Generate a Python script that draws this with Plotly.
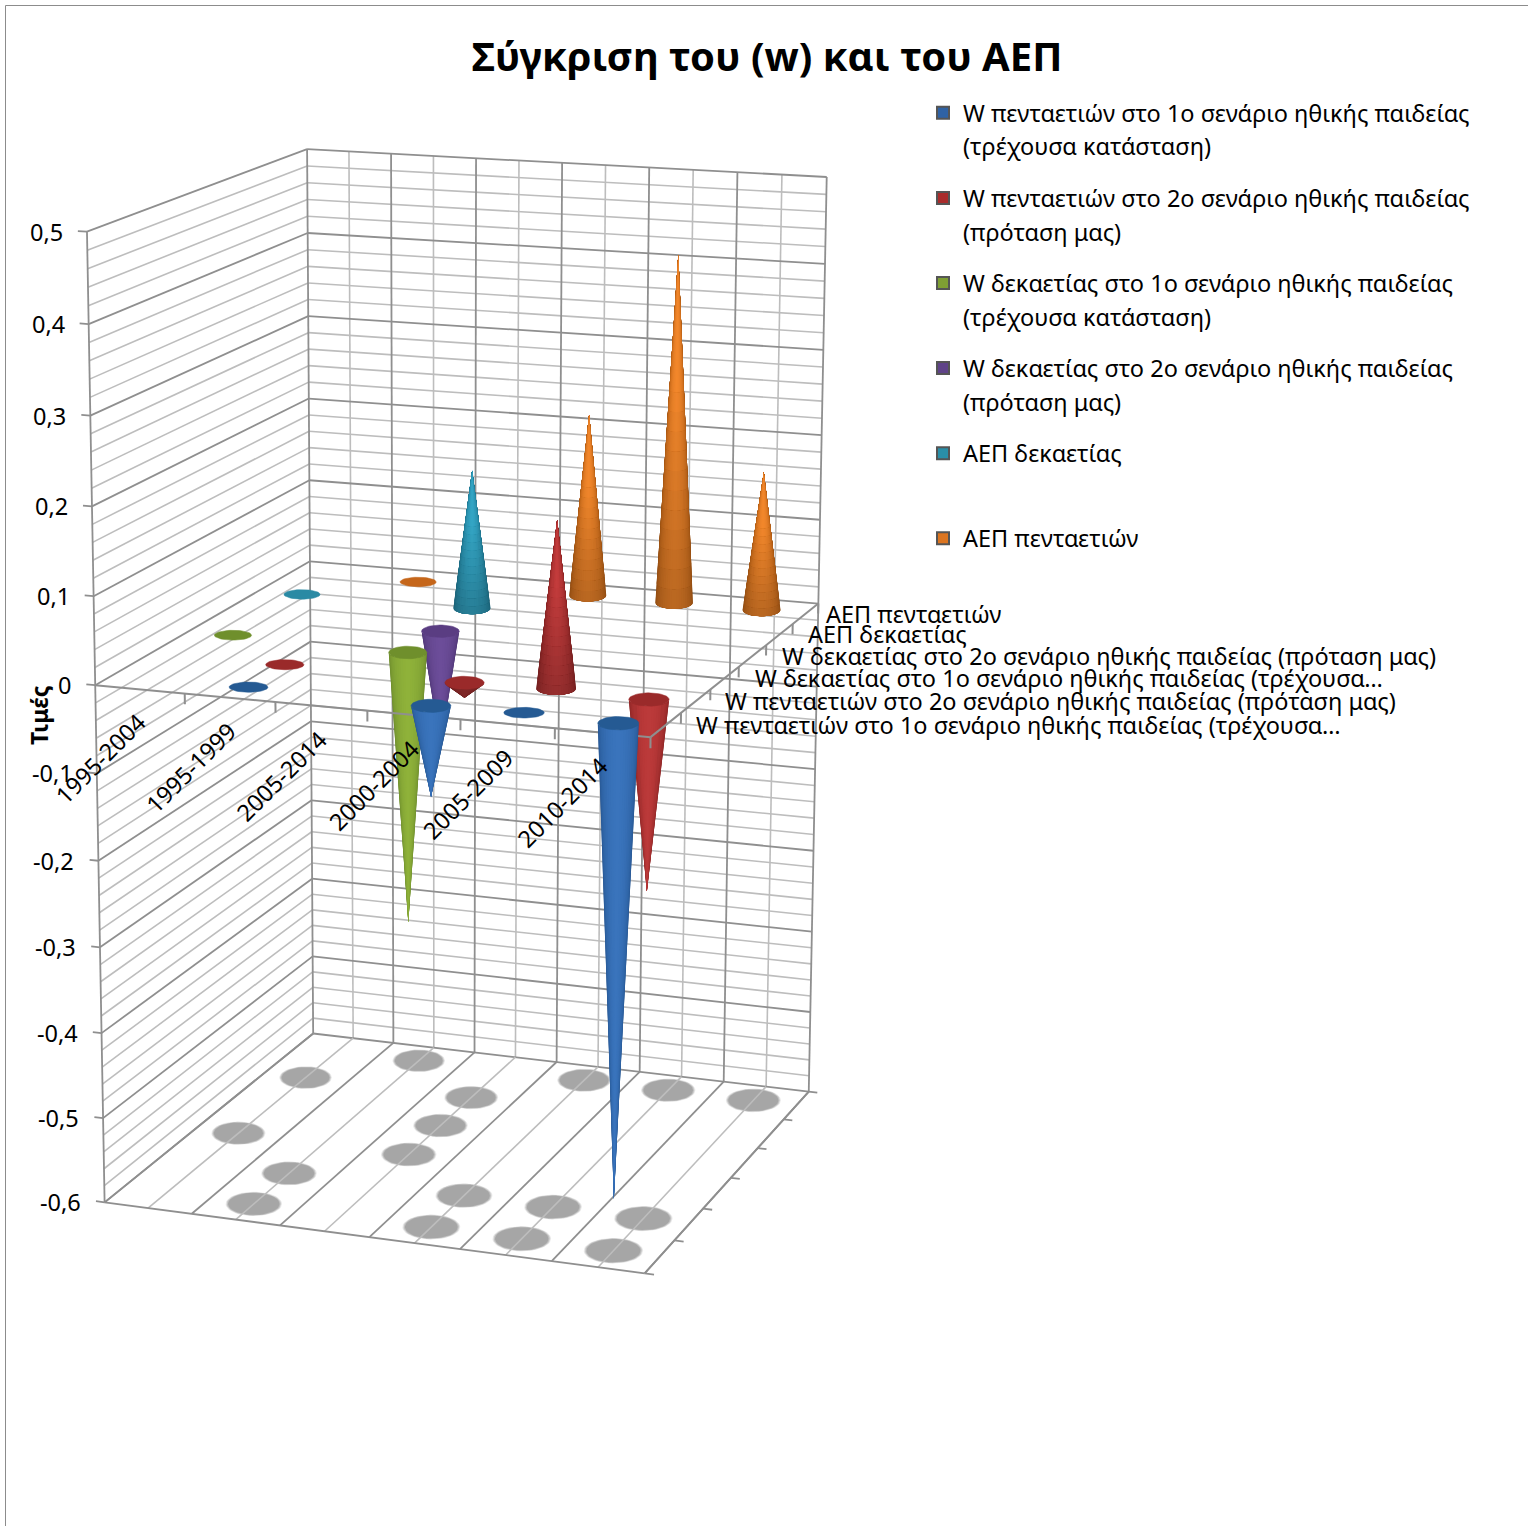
import numpy as np
import plotly.graph_objects as go

categories = ["1995-2004", "1995-1999", "2005-2014", "2000-2004", "2005-2009", "2010-2014"]
series_axis_labels = ["W πενταετιών στο 1ο σενάριο ηθικής παιδείας (τρέχουσα…",
                      "W πενταετιών στο 2ο σενάριο ηθικής παιδείας (πρόταση μας)",
                      "W δεκαετίας στο 1ο σενάριο ηθικής παιδείας (τρέχουσα…",
                      "W δεκαετίας στο 2ο σενάριο ηθικής παιδείας (πρόταση μας)",
                      "ΑΕΠ δεκαετίας", "ΑΕΠ πενταετιών"]
legend_line1 = ["W πενταετιών στο 1ο σενάριο ηθικής παιδείας",
                "W πενταετιών στο 2ο σενάριο ηθικής παιδείας",
                "W δεκαετίας στο 1ο σενάριο ηθικής παιδείας",
                "W δεκαετίας στο 2ο σενάριο ηθικής παιδείας",
                "ΑΕΠ δεκαετίας", "ΑΕΠ πενταετιών"]
legend_line2 = ["(τρέχουσα κατάσταση)", "(πρόταση μας)", "(τρέχουσα κατάσταση)", "(πρόταση μας)", " ", " "]
w5_s1 = [None, 0.002, None, -0.105, 0.002, -0.54]
w5_s2 = [None, 0.002, None, -0.02, 0.188, -0.22]
w10_s1 = [0.002, None, -0.32, None, None, None]
w10_s2 = [None, None, -0.14, None, None, None]
gdp10 = [0.002, None, 0.163, None, None, None]
gdp5 = [None, 0.002, None, 0.216, 0.41, 0.163]
value_ticks = [0.5, 0.4, 0.3, 0.2, 0.1, 0, -0.1, -0.2, -0.3, -0.4, -0.5, -0.6]
all_series = [w5_s1, w5_s2, w10_s1, w10_s2, gdp10, gdp5]

ZLO, ZHI = -0.6, 0.5

# Perspective of the chart frame: box corners/edges (category, series, value) -> page position.
frame = [(0,0,-.6,105,1203),(0,0,-.5,103.5,1117),(0,0,-.3,100.5,946),(0,0,-.1,97,773),(0,0,0,93,685),(0,0,.2,91,505),(0,0,.4,89.5,324),(0,0,.5,88,232),
         (0,6,-.6,313,1035),(0,6,0,310,563),(0,6,.5,307,149),
         (6,6,-.6,808,1090),(6,6,0,820,602),(6,6,.5,826,177),
         (6,0,-.6,645,1274),(6,0,0,650,740)]
Fm = np.array(frame, float)
rows = []
for x_, y_, z_, u_, v_ in Fm:
    X_ = [x_/6, y_/6, z_, 1]
    rows.append(X_+[0,0,0,0]+[-u_/1000*c for c in X_])
    rows.append([0,0,0,0]+X_+[-v_/1000*c for c in X_])
P = np.linalg.svd(np.array(rows))[2][-1].reshape(3,4)

def pr(x, y, z):
    h = P@np.array([x/6, y/6, z, 1.0])
    return h[0]/h[2]*1000, h[1]/h[2]*1000

palette_mid = ["#3a74bd", "#bc3a3a", "#8fb23a", "#6c4d99", "#329fbd", "#e9822a"]
palette_edge = ["#265691", "#8a2424", "#6b8a2c", "#4d3574", "#1f7690", "#b05c14"]
palette_cap = ["#255a93", "#9a2a2a", "#6f8f2c", "#5a3d82", "#2a8aa4", "#c5661a"]
swatch = ["#2f62a4", "#a92c2c", "#7f9f33", "#5f4388", "#2a8fa8", "#dc7520"]

def rgb(h): return np.array([int(h[i:i+2],16) for i in (1,3,5)], float)
def css(c): return "rgb(%d,%d,%d)" % tuple(int(round(v)) for v in np.clip(c,0,255))

fig = go.Figure()

def lines(segs, color, width):
    xs, ys = [], []
    for a, b in segs:
        p, q = pr(*a), pr(*b)
        xs += [p[0], q[0], None]; ys += [p[1], q[1], None]
    fig.add_trace(go.Scatter(x=xs, y=ys, mode="lines", line=dict(color=color, width=width),
                             hoverinfo="skip", showlegend=False))

def ellipse(cx, cy, hw, hh, n=48):
    a = np.linspace(0, 2*np.pi, n)
    return list(cx+hw*np.cos(a))+[None], list(cy+hh*np.sin(a))+[None]

RADIUS = 0.215
def half_width(x, y, z):
    a, b = pr(x+.5, y, z), pr(x-.5, y, z)
    return RADIUS*np.hypot(a[0]-b[0], a[1]-b[1])

LIGHT, DARK = "#bdbdbd", "#8f8f8f"
LW, DW = 1.6, 1.8

# walls: light grid first
minor_z = [round(ZLO+.02*i, 2) for i in range(56)]
major_z = [t for t in value_ticks]
seg_minor = []
for z in minor_z:
    if any(abs(z-t) < 1e-6 for t in major_z):
        continue
    seg_minor += [((0,0,z),(0,6,z)), ((0,6,z),(6,6,z))]
for i in range(1, 13, 2):
    seg_minor.append(((i/2,6,ZLO),(i/2,6,ZHI)))
lines(seg_minor, LIGHT, LW)
seg_major = []
for z in major_z:
    seg_major += [((0,0,z),(0,6,z)), ((0,6,z),(6,6,z))]
for i in range(0, 7):
    seg_major.append(((i,6,ZLO),(i,6,ZHI)))
seg_major.append(((0,0,ZLO),(0,0,ZHI)))
lines(seg_major, DARK, DW)

# floor shadows
for scale, colr in ((1.08, "#efefef"), (1.05, "#d8d8d8"), (1.02, "#bebebe"), (.98, "#a6a6a6")):
    xs, ys = [], []
    for si, vals in enumerate(all_series):
        for ci, v in enumerate(vals):
            if v is None: continue
            c = pr(ci+.5, si+.5, ZLO)
            hw = half_width(ci+.5, si+.5, ZLO)*1.38
            ex, ey = ellipse(c[0], c[1], hw*scale, hw*.43*scale)
            xs += ex; ys += ey
    fig.add_trace(go.Scatter(x=xs, y=ys, mode="lines", fill="toself", fillcolor=colr, line=dict(width=0),
                             hoverinfo="skip", showlegend=False))
# floor lines over the shadows
lines([((i/2,0,ZLO),(i/2,6,ZLO)) for i in range(1,13,2)], LIGHT, LW)
seg = [((i,0,ZLO),(i,6,ZLO)) for i in range(0,7)]
seg += [((0,0,ZLO),(6,0,ZLO)), ((6,0,ZLO),(6,6,ZLO))]
seg += [((-.1,0,t),(0,0,t)) for t in value_ticks]
seg += [((6,i,ZLO),(6.1,i,ZLO)) for i in range(0,7)]
lines(seg, DARK, DW)

def axis_lines():
    seg = [((0,0,0),(6,0,0)), ((6,0,0),(6,6,0))]
    seg += [((i,0,0),(i,0,-.012)) for i in range(1,7)]
    seg += [((6,i,0),(6,i,-.012)) for i in range(1,7)]
    lines(seg, DARK, 2)

LEVELS, SECS = 12, 18
def draw_row(si):
    vals = all_series[si]
    mid, edge, cap = rgb(palette_mid[si]), rgb(palette_edge[si]), rgb(palette_cap[si])
    polys = {}
    caps_x, caps_y = [], []
    yc = si+.5
    for ci, v in enumerate(vals):
        if v is None: continue
        xc = ci+.5
        flat = abs(v) < .005
        bz = -0.001 if flat else (-0.003 if v < 0 else 0)
        base = pr(xc, yc, bz)
        hw = half_width(xc, yc, 0)
        hh = hw*.33
        tip = pr(xc, yc, v)
        if not flat:
            secs = SECS if v > 0 else 1
            for m in range(secs):
                f = m/secs
                shade = (0.80+0.24*min(f/.6, 1)) if v > 0 else (0.68 if abs(v) < .05 else 1.0)
                for l in range(LEVELS):
                    s = 1-l/LEVELS                       # 1 at the silhouette, towards 0 at the middle
                    a0 = (1-s)*np.pi/2
                    arc = np.linspace(a0, np.pi-a0, 25)
                    rx = base[0]+hw*np.cos(arc); ry = base[1]+hh*np.sin(arc)
                    px = list(rx+(tip[0]-rx)*f)+[tip[0], rx[0]+(tip[0]-rx[0])*f, None]
                    py = list(ry+(tip[1]-ry)*f)+[tip[1], ry[0]+(tip[1]-ry[0])*f, None]
                    colr = css((mid+(edge-mid)*s**1.8)*shade)
                    d = polys.setdefault(colr, ([], []))
                    d[0].extend(px); d[1].extend(py)
        if v < 0 or flat:
            ex, ey = ellipse(base[0], base[1], hw, hh*(.8 if flat else 1))
            caps_x += ex; caps_y += ey
    for colr, (xs, ys) in polys.items():
        fig.add_trace(go.Scatter(x=xs, y=ys, mode="lines", fill="toself", fillcolor=colr,
                                 line=dict(width=0), hoverinfo="skip", showlegend=False))
    if caps_x:
        fig.add_trace(go.Scatter(x=caps_x, y=caps_y, mode="lines", fill="toself", fillcolor=css(cap),
                                 line=dict(color=css(cap), width=.5), hoverinfo="skip", showlegend=False))

for si in (5, 4, 3, 2, 1):
    draw_row(si)
axis_lines()
draw_row(0)

# legend entries
for si in range(6):
    fig.add_trace(go.Scatter(x=[None], y=[None], mode="markers",
                             marker=dict(symbol="square", size=16, color=swatch[si], line=dict(color="#555", width=.5)),
                             name=legend_line1[si], legendgroup=str(si), showlegend=True))
    fig.add_trace(go.Scatter(x=[None], y=[None], mode="markers",
                             marker=dict(symbol="square", size=16, color="rgba(0,0,0,0)", line=dict(width=0)),
                             name=legend_line2[si], legendgroup=str(si), showlegend=True))

FONT = "Noto Sans"
FS = 23.5
anns = []
for v in value_ticks:
    p = pr(0, 0, v)
    anns.append(dict(x=p[0], y=p[1], xref="x", yref="y", text=("%g" % v).replace(".", ","), showarrow=False,
                     xanchor="right", yanchor="middle", xshift=-22, font=dict(family=FONT, size=FS, color="#000")))
for i, c_ in enumerate(categories):
    p = pr(i+.5, 0, 0)
    anns.append(dict(x=p[0], y=p[1], xref="x", yref="y", text=c_, showarrow=False, textangle=-45,
                     xanchor="right", yanchor="top", xshift=15, yshift=-15, font=dict(family=FONT, size=FS, color="#000")))
label_nudge = [28, 27, 28, 27, 26, 18]
for i, s_ in enumerate(series_axis_labels):
    p = pr(6, i+.5, 0)
    anns.append(dict(x=p[0], y=p[1], xref="x", yref="y", text=s_, showarrow=False, xanchor="left", yanchor="middle",
                     xshift=label_nudge[i], yshift=0, font=dict(family=FONT, size=FS, color="#000")))
anns.append(dict(x=39, y=715, xref="x", yref="y", text="<b>Τιμές</b>", textangle=-90, showarrow=False,
                 font=dict(family=FONT, size=23, color="#000")))

fig.update_layout(
    width=1528, height=1526, margin=dict(l=0, r=0, t=0, b=0), paper_bgcolor="white", plot_bgcolor="white",
    xaxis=dict(range=[0,1528], visible=False, fixedrange=True),
    yaxis=dict(range=[1526,0], visible=False, fixedrange=True),
    title=dict(text="<b>Σύγκριση του (w) και του ΑΕΠ</b>", x=767/1528, xanchor="center", y=1-57/1526, yanchor="middle",
               font=dict(family=FONT, size=40, color="#000")),
    legend=dict(x=923/1528, y=1-91/1526, xanchor="left", yanchor="top", bgcolor="rgba(0,0,0,0)", tracegroupgap=18,
                font=dict(family=FONT, size=FS, color="#000"), itemsizing="constant"),
    annotations=anns,
    shapes=[dict(type="line", xref="x", yref="y", x0=5.5, x1=5.5, y0=1526, y1=5.5, line=dict(color="#8c8c8c", width=1)),
            dict(type="line", xref="x", yref="y", x0=5.5, x1=1528, y0=5.5, y1=5.5, line=dict(color="#8c8c8c", width=1))],
)
fig.write_html("out.html", post_script="document.body.style.margin='0';", config=dict(displayModeBar=False))
